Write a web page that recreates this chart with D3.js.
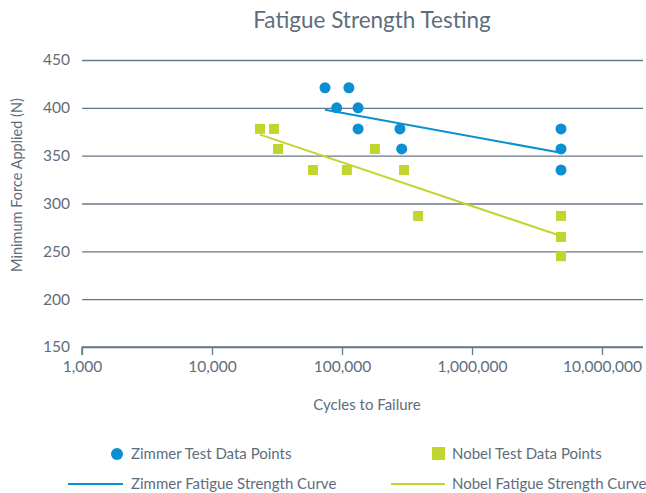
<!DOCTYPE html>
<html>
<head>
<meta charset="utf-8">
<script src="https://cdn.jsdelivr.net/npm/d3@7"></script>
<style>
  body { margin: 0; background: #fff; }
  text { font-family: Lato, "Open Sans", sans-serif; fill: #5e6d7b; }
</style>
</head>
<body>
<svg width="646" height="493"></svg>
<script>
// data
const zimmerCycles = [74000, 113000, 91000, 133000, 133000, 279000, 288000, 4840000, 4840000, 4840000];
const zimmerForce  = [421, 421, 400, 400, 378, 378, 357, 378, 357, 335];
const nobelCycles  = [23400, 30000, 32200, 59800, 109000, 179000, 300000, 385000, 4840000, 4840000, 4840000];
const nobelForce   = [378, 378, 357, 335, 335, 357, 335, 287, 287, 265, 245];
const zimmerCurveCycles = [74000, 4840000];
const zimmerCurveForce  = [398, 353];
const nobelCurveCycles  = [23400, 4840000];
const nobelCurveForce   = [372, 266];
const xTicks = [1000, 10000, 100000, 1000000, 10000000];
const yTicks = [150, 200, 250, 300, 350, 400, 450];

const blue = '#0a90d2';
const green = '#c2d52f';
const grid = '#6a7986';

const svg = d3.select('svg');
const margin = { left: 82, right: 3, top: 60, bottom: 146 };
const width = +svg.attr('width');
const height = +svg.attr('height');
const innerWidth = width - margin.left - margin.right;
const innerHeight = height - margin.top - margin.bottom;

const g = svg.append('g')
    .attr('transform', `translate(${margin.left},${margin.top})`);

const xScale = d3.scaleLog().domain([1000, 10000000]).range([0, 520]);
const yScale = d3.scaleLinear().domain([150, 450]).range([innerHeight, 0]);

// horizontal grid lines
const gridG = g.append('g')
  .call(d3.axisLeft(yScale).tickValues(yTicks).tickSize(-innerWidth).tickFormat(''));
gridG.select('.domain').remove();
gridG.selectAll('line').attr('stroke', grid).attr('stroke-width', 1.3);

// y tick labels
const yAxisG = g.append('g')
  .call(d3.axisLeft(yScale).tickValues(yTicks).tickSize(0).tickPadding(12).tickFormat(d3.format('d')))
  .attr('font-size', 15.5)
  .attr('font-family', 'Lato, sans-serif');
yAxisG.select('.domain').remove();
yAxisG.selectAll('text').attr('fill', '#5e6d7b');

// bottom axis
const xAxis = d3.axisBottom(xScale)
  .tickValues(xTicks)
  .tickSize(8)
  .tickPadding(6)
  .tickFormat(d3.format(','));
const xAxisG = g.append('g')
    .attr('transform', `translate(0,${innerHeight})`)
    .call(xAxis)
    .attr('font-size', 15.5)
    .attr('font-family', 'Lato, sans-serif');
xAxisG.select('.domain')
  .attr('d', `M0,8V0H${innerWidth}`)
  .attr('stroke', grid).attr('stroke-width', 1.3);
xAxisG.selectAll('line').attr('stroke', grid).attr('stroke-width', 1.3);
xAxisG.selectAll('text').attr('fill', '#5e6d7b');

// axis labels
g.append('text')
    .attr('x', 285)
    .attr('y', innerHeight + 63)
    .attr('text-anchor', 'middle')
    .style('font-size', '15px')
    .text('Cycles to Failure');

g.append('text')
    .attr('transform', `rotate(-90)`)
    .attr('x', -125)
    .attr('y', -60)
    .attr('text-anchor', 'middle')
    .style('font-size', '14.5px')
    .text('Minimum Force Applied (N)');

svg.append('text')
    .attr('x', 372)
    .attr('y', 28)
    .attr('text-anchor', 'middle')
    .style('font-size', '22.5px')
    .text('Fatigue Strength Testing');

// fatigue curves
const line = d3.line().x(d => xScale(d[0])).y(d => yScale(d[1]));
g.append('path')
  .datum(d3.zip(zimmerCurveCycles, zimmerCurveForce))
  .attr('d', line).attr('fill', 'none').attr('stroke', blue).attr('stroke-width', 2);
g.append('path')
  .datum(d3.zip(nobelCurveCycles, nobelCurveForce))
  .attr('d', line).attr('fill', 'none').attr('stroke', green).attr('stroke-width', 2);

// points
g.selectAll('circle.z').data(d3.zip(zimmerCycles, zimmerForce))
  .enter().append('circle')
    .attr('cx', d => xScale(d[0]))
    .attr('cy', d => yScale(d[1]))
    .attr('r', 5.5)
    .attr('fill', blue);

const sq = 10;
g.selectAll('rect.n').data(d3.zip(nobelCycles, nobelForce))
  .enter().append('rect')
    .attr('x', d => xScale(d[0]) - sq / 2)
    .attr('y', d => yScale(d[1]) - sq / 2)
    .attr('width', sq)
    .attr('height', sq)
    .attr('fill', green);

// legend
const legend = svg.append('g').style('font-size', '15px');
legend.append('circle').attr('cx', 117).attr('cy', 454).attr('r', 6).attr('fill', blue);
legend.append('text').attr('x', 131).attr('y', 459).text('Zimmer Test Data Points');
legend.append('rect').attr('x', 432).attr('y', 447).attr('width', 13).attr('height', 13).attr('fill', green);
legend.append('text').attr('x', 452).attr('y', 459).text('Nobel Test Data Points');
legend.append('line').attr('x1', 68).attr('x2', 123).attr('y1', 484).attr('y2', 484).attr('stroke', blue).attr('stroke-width', 2);
legend.append('text').attr('x', 131).attr('y', 489).text('Zimmer Fatigue Strength Curve');
legend.append('line').attr('x1', 391).attr('x2', 445).attr('y1', 484).attr('y2', 484).attr('stroke', green).attr('stroke-width', 2);
legend.append('text').attr('x', 452).attr('y', 489).text('Nobel Fatigue Strength Curve');
</script>
</body>
</html>
